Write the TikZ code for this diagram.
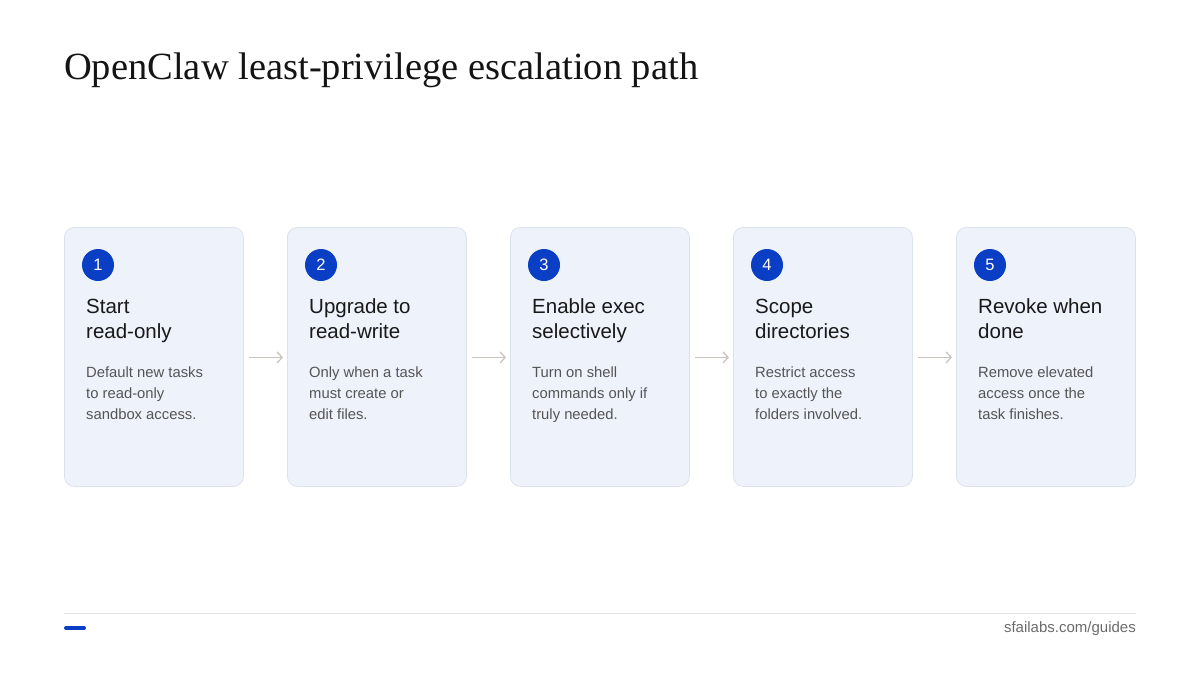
\documentclass[tikz,border=0pt]{standalone}
\usepackage{fontspec}
\setmainfont{Liberation Serif}
\newfontfamily\uisans{Liberation Sans}
\usetikzlibrary{arrows.meta}
\definecolor{cardfill}{HTML}{EDF2FB}
\definecolor{cardline}{HTML}{DCE2EC}
\definecolor{accent}{HTML}{0A3EC4}
\definecolor{bodytext}{HTML}{555555}
\definecolor{arrowcol}{HTML}{C9C5BD}
\definecolor{rulecol}{HTML}{E6E6E6}
\definecolor{foottext}{HTML}{6B6B6B}
\tikzset{
  card/.style={draw=cardline, line width=0.8pt, fill=cardfill, rounded corners=10pt, minimum width=179pt, minimum height=259pt, anchor=north west, inner sep=0pt},
  badge/.style={circle, fill=accent, minimum size=32pt, inner sep=0pt, text=white, font=\uisans\fontsize{16.5}{16.5}\selectfont},
  head/.style={anchor=north west, align=left, inner sep=0pt, font=\uisans\fontsize{20.5}{25}\selectfont, text=black!90},
  body/.style={anchor=north west, align=left, inner sep=0pt, font=\uisans\fontsize{14.8}{21}\selectfont, text=bodytext},
  flow/.style={draw=arrowcol, line width=1.3pt, -{Straight Barb[length=5pt,width=11pt]}},
}
\begin{document}
\begin{tikzpicture}[x=1pt,y=-1pt]
\useasboundingbox (0,0) rectangle (1200,675);
\node[anchor=base west, inner sep=0pt, font=\fontsize{38.5}{38.5}\selectfont, text=black!92] (title) at (64,79) {OpenClaw least-privilege escalation path};
\foreach \i/\h/\b in {1/{Start\\read-only}/{Default new tasks\\to read-only\\sandbox access.},
                      2/{Upgrade to\\read-write}/{Only when a task\\must create or\\edit files.},
                      3/{Enable exec\\selectively}/{Turn on shell\\commands only if\\truly needed.},
                      4/{Scope\\directories}/{Restrict access\\to exactly the\\folders involved.},
                      5/{Revoke when\\done}/{Remove elevated\\access once the\\task finishes.}} {
  \pgfmathsetmacro{\xx}{64+223*(\i-1)}
  \node[card] (c\i) at (\xx,227) {};
  \node[badge] (n\i) at (\xx+34,265) {\i};
  \node[head] (h\i) at (\xx+22,298.5) {\h};
  \node[body] (b\i) at (\xx+22,367) {\b};
}
\foreach \i/\j in {1/2,2/3,3/4,4/5} {
  \draw[flow] ([xshift=5pt,yshift=-0.5pt]c\i.east) -- ([xshift=-4pt,yshift=-0.5pt]c\j.west);
}
\draw[rulecol, line width=1pt] (64,613) coordinate (r1) -- (1136,613) coordinate (r2);
\draw[accent, line width=4pt, line cap=round] (66,628) coordinate (d1) -- (84,628) coordinate (d2);
\node[anchor=east, inner sep=0pt, font=\uisans\fontsize{15}{15}\selectfont, text=foottext] (foot) at (1136,629) {sfailabs.com/guides};
\end{tikzpicture}
\end{document}
